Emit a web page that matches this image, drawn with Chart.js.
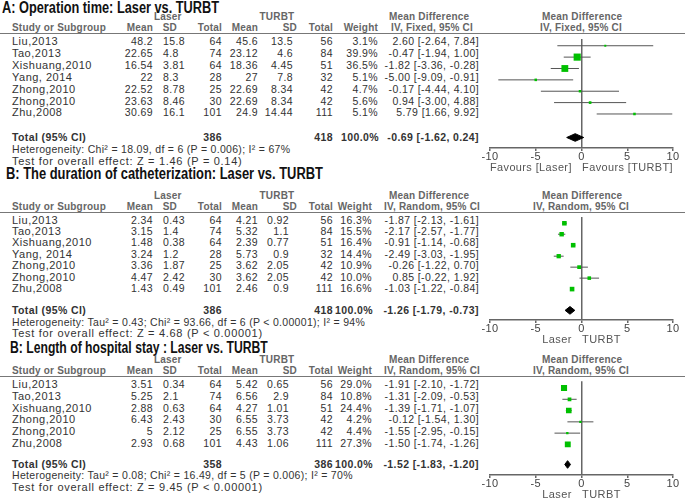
<!DOCTYPE html>
<html>
<head>
<meta charset="utf-8">
<script src="https://cdn.jsdelivr.net/npm/chart.js@4.4.1/dist/chart.umd.min.js"></script>
<style>
html,body{margin:0;padding:0;background:#fff;}
#page{position:relative;width:685px;height:500px;overflow:hidden;font-family:"Liberation Sans",Arial,sans-serif;font-size:10.5px;color:#333;letter-spacing:.4px;}
.t{position:absolute;white-space:nowrap;line-height:12px;}
.nm{font-size:11px;letter-spacing:.5px;}
.b{font-weight:bold;}
.h{font-weight:bold;color:#666;font-size:10px;letter-spacing:.2px;}
.het{letter-spacing:.3px;}
.tst{font-size:11px;letter-spacing:.7px;}
.ttl{position:absolute;white-space:nowrap;font-weight:bold;font-size:16px;line-height:18px;color:#111;letter-spacing:0;transform-origin:0 50%;}
.rule{position:absolute;left:0;width:685px;height:0;border-top:1.5px solid #777;}
canvas{position:absolute;}
</style>
</head>
<body>
<div id="page"></div>
<script>
const xTicks = [-10, -5, 0, 5, 10];
const titles = [
    'A: Operation time: Laser vs. TURBT',
    'B: The duration of catheterization: Laser vs. TURBT',
    'B: Length of hospital stay : Laser vs. TURBT'
];

// A: operation time
const opStudies = ['Liu,2013', 'Tao,2013', 'Xishuang,2010', 'Yang, 2014', 'Zhong,2010', 'Zhong,2010', 'Zhu,2008'];
const opLaserMean = [48.2, 22.65, 16.54, 22, 22.52, 23.63, 30.69];
const opLaserSd = [15.8, 4.8, 3.81, 8.3, 8.78, 8.46, 16.1];
const opLaserN = [64, 74, 64, 28, 25, 30, 101];
const opTurbtMean = [45.6, 23.12, 18.36, 27, 22.69, 22.69, 24.9];
const opTurbtSd = [13.5, 4.6, 4.45, 7.8, 8.34, 8.34, 14.44];
const opTurbtN = [56, 84, 51, 32, 42, 42, 111];
const opWeight = [3.1, 39.9, 36.5, 5.1, 4.7, 5.6, 5.1];
const opMd = [2.60, -0.47, -1.82, -5.00, -0.17, 0.94, 5.79];
const opLow = [-2.64, -1.94, -3.36, -9.09, -4.44, -3.00, 1.66];
const opHigh = [7.84, 1.00, -0.28, -0.91, 4.10, 4.88, 9.92];
const opPooled = [-0.69, -1.62, 0.24];
const opTotals = [386, 418];

// B: catheterization
const caStudies = ['Liu,2013', 'Tao,2013', 'Xishuang,2010', 'Yang, 2014', 'Zhong,2010', 'Zhong,2010', 'Zhu,2008'];
const caLaserMean = [2.34, 3.15, 1.48, 3.24, 3.36, 4.47, 1.43];
const caLaserSd = [0.43, 1.4, 0.38, 1.2, 1.87, 2.42, 0.49];
const caLaserN = [64, 74, 64, 28, 25, 30, 101];
const caTurbtMean = [4.21, 5.32, 2.39, 5.73, 3.62, 3.62, 2.46];
const caTurbtSd = [0.92, 1.1, 0.77, 0.9, 2.05, 2.05, 0.9];
const caTurbtN = [56, 84, 51, 32, 42, 42, 111];
const caWeight = [16.3, 15.5, 16.4, 14.4, 10.9, 10.0, 16.6];
const caMd = [-1.87, -2.17, -0.91, -2.49, -0.26, 0.85, -1.03];
const caLow = [-2.13, -2.57, -1.14, -3.03, -1.22, -0.22, -1.22];
const caHigh = [-1.61, -1.77, -0.68, -1.95, 0.70, 1.92, -0.84];
const caPooled = [-1.26, -1.79, -0.73];
const caTotals = [386, 418];

// C: hospital stay
const hsStudies = ['Liu,2013', 'Tao,2013', 'Xishuang,2010', 'Zhong,2010', 'Zhong,2010', 'Zhu,2008'];
const hsLaserMean = [3.51, 5.25, 2.88, 6.43, 5, 2.93];
const hsLaserSd = [0.34, 2.1, 0.63, 2.43, 2.12, 0.68];
const hsLaserN = [64, 74, 64, 30, 25, 101];
const hsTurbtMean = [5.42, 6.56, 4.27, 6.55, 6.55, 4.43];
const hsTurbtSd = [0.65, 2.9, 1.01, 3.73, 3.73, 1.06];
const hsTurbtN = [56, 84, 51, 42, 42, 111];
const hsWeight = [29.0, 10.8, 24.4, 4.2, 4.4, 27.3];
const hsMd = [-1.91, -1.31, -1.39, -0.12, -1.55, -1.50];
const hsLow = [-2.10, -2.09, -1.71, -1.54, -2.95, -1.74];
const hsHigh = [-1.72, -0.53, -1.07, 1.30, -0.15, -1.26];
const hsPooled = [-1.52, -1.83, -1.20];
const hsTotals = [358, 386];

const hetTexts = [
    'Heterogeneity: Chi\u00b2 = 18.09, df = 6 (P = 0.006); I\u00b2 = 67%',
    'Heterogeneity: Tau\u00b2 = 0.43; Chi\u00b2 = 93.66, df = 6 (P < 0.00001); I\u00b2 = 94%',
    'Heterogeneity: Tau\u00b2 = 0.08; Chi\u00b2 = 16.49, df = 5 (P = 0.006); I\u00b2 = 70%'
];
const testTexts = [
    'Test for overall effect: Z = 1.46 (P = 0.14)',
    'Test for overall effect: Z = 4.68 (P < 0.00001)',
    'Test for overall effect: Z = 9.45 (P < 0.00001)'
];
const axisTitles = ['Favours [Laser]   Favours [TURBT]', 'Laser   TURBT', 'Laser   TURBT'];
const models = ['Fixed', 'Random', 'Random'];

const panels = [
    { studies: opStudies, lm: opLaserMean, ls: opLaserSd, ln: opLaserN, tm: opTurbtMean, ts: opTurbtSd, tn: opTurbtN,
      w: opWeight, md: opMd, lo: opLow, hi: opHigh, pooled: opPooled, totals: opTotals,
      L: { tx: 2, tw: 217, ty: 8, h1: 17, h2: 28, line: 34, row0: 41, step: 11.9, total: 137, het: 149, test: 161, axis: 148, tsR: 293, wR: 378 } },
    { studies: caStudies, lm: caLaserMean, ls: caLaserSd, ln: caLaserN, tm: caTurbtMean, ts: caTurbtSd, tn: caTurbtN,
      w: caWeight, md: caMd, lo: caLow, hi: caHigh, pooled: caPooled, totals: caTotals,
      L: { tx: 6, tw: 317, ty: 174, h1: 196, h2: 207, line: 213, row0: 219.5, step: 11.4, total: 310, het: 322, test: 333, axis: 320, tsR: 289, wR: 372 } },
    { studies: hsStudies, lm: hsLaserMean, ls: hsLaserSd, ln: hsLaserN, tm: hsTurbtMean, ts: hsTurbtSd, tn: hsTurbtN,
      w: hsWeight, md: hsMd, lo: hsLow, hi: hsHigh, pooled: hsPooled, totals: hsTotals,
      L: { tx: 10, tw: 258, ty: 348, h1: 360, h2: 371, line: 377, row0: 384, step: 11.8, total: 464, het: 475, test: 487, axis: 475, tsR: 289, wR: 372 } }
];

const page = document.getElementById('page');

function put(text, x, y, align, cls){
    const d = document.createElement('div');
    d.className = 't' + (cls ? ' ' + cls : '');
    d.textContent = text;
    d.style.top = (y - 6) + 'px';
    if (align === 'r') d.style.right = (685 - x) + 'px';
    else d.style.left = x + 'px';
    page.appendChild(d);
    if (align === 'c') d.style.left = (x - d.offsetWidth / 2) + 'px';
    return d;
}

const ci = (m, l, h) => m.toFixed(2) + ' [' + l.toFixed(2) + ', ' + h.toFixed(2) + ']';

function drawTable(p, k){
    const L = p.L;
    const t = document.createElement('div');
    t.className = 'ttl';
    t.textContent = titles[k];
    t.style.left = L.tx + 'px';
    t.style.top = (L.ty - 9) + 'px';
    page.appendChild(t);
    t.style.transform = 'scaleX(' + (L.tw / t.offsetWidth) + ')';

    put('Laser', 168, L.h1, 'c', 'h');
    put('TURBT', 277, L.h1, 'c', 'h');
    put('Mean Difference', 429, L.h1, 'c', 'h');
    put('Mean Difference', 582, L.h1, 'c', 'h');
    put('Study or Subgroup', 12, L.h2, 'l', 'h');
    put('Mean', 153, L.h2, 'r', 'h');
    put('SD', 177, L.h2, 'r', 'h');
    put('Total', 222, L.h2, 'r', 'h');
    put('Mean', 258, L.h2, 'r', 'h');
    put('SD', 297, L.h2, 'r', 'h');
    put('Total', 333, L.h2, 'r', 'h');
    put('Weight', L.wR, L.h2, 'r', 'h');
    put('IV, ' + models[k] + ', 95% CI', 432, L.h2, 'c', 'h');
    put('IV, ' + models[k] + ', 95% CI', 581, L.h2, 'c', 'h');

    const rule = document.createElement('div');
    rule.className = 'rule';
    rule.style.top = (L.line - 1) + 'px';
    page.appendChild(rule);

    p.studies.forEach((s, i) => {
        const y = L.row0 + i * L.step;
        put(s, 12, y, 'l', 'nm');
        put(String(p.lm[i]), 153, y, 'r');
        put(String(p.ls[i]), 163, y, 'l');
        put(String(p.ln[i]), 222, y, 'r');
        put(String(p.tm[i]), 258, y, 'r');
        put(String(p.ts[i]), L.tsR, y, 'r');
        put(String(p.tn[i]), 333, y, 'r');
        put(p.w[i].toFixed(1) + '%', L.wR, y, 'r');
        put(ci(p.md[i], p.lo[i], p.hi[i]), 479, y, 'r');
    });

    put('Total (95% CI)', 12, L.total, 'l', 'b');
    put(String(p.totals[0]), 222, L.total, 'r', 'b');
    put(String(p.totals[1]), 333, L.total, 'r', 'b');
    put('100.0%', L.wR + 1, L.total, 'r', 'b');
    put(ci(p.pooled[0], p.pooled[1], p.pooled[2]), 479, L.total, 'r', 'b');
    put(hetTexts[k], 12, L.het, 'l', 'het');
    put(testTexts[k], 12, L.test, 'l', 'tst');
}

function drawForest(p, k){
    const L = p.L;
    const cv = document.createElement('canvas');
    cv.width = 205;
    cv.height = L.axis - L.line + 25;
    cv.style.left = '480px';
    cv.style.top = L.line + 'px';
    page.appendChild(cv);

    const yMin = -(L.row0 - L.line) / L.step;
    const yMax = (L.axis - L.row0) / L.step;
    const ty = (L.total - L.row0) / L.step;
    const dh = 4 / L.step;

    const datasets = [];
    // study squares, area follows the weight
    datasets.push({
        type: 'scatter',
        data: p.md.map((v, i) => ({ x: v, y: i })),
        pointStyle: 'rect',
        pointRadius: p.w.map(w => 0.8 * Math.sqrt(w)),
        backgroundColor: '#00c000',
        borderWidth: 0
    });
    // pooled diamond
    datasets.push({
        type: 'line',
        data: [
            { x: p.pooled[1], y: ty }, { x: p.pooled[0], y: ty - dh },
            { x: p.pooled[2], y: ty }, { x: p.pooled[0], y: ty + dh }, { x: p.pooled[1], y: ty }
        ],
        fill: 'shape',
        backgroundColor: '#000',
        borderColor: '#000',
        borderWidth: 1,
        pointRadius: 0
    });
    // confidence intervals
    p.md.forEach((v, i) => {
        datasets.push({
            type: 'line',
            data: [{ x: p.lo[i], y: i }, { x: p.hi[i], y: i }],
            borderColor: '#555',
            borderWidth: 1,
            pointRadius: 0,
            fill: false
        });
    });

    new Chart(cv, {
        type: 'scatter',
        data: { datasets },
        options: {
            responsive: false,
            animation: false,
            events: [],
            layout: { padding: { left: 10, right: 12, top: 0, bottom: 0 } },
            plugins: { legend: { display: false }, tooltip: { enabled: false } },
            scales: {
                x: {
                    type: 'linear', min: -10, max: 10,
                    afterBuildTicks: s => { s.ticks = xTicks.map(v => ({ value: v })); },
                    grid: {
                        drawOnChartArea: true,
                        color: c => (c.tick && c.tick.value === 0) ? '#666' : 'rgba(0,0,0,0)',
                        lineWidth: 1.5,
                        tickColor: '#666',
                        tickLength: 3
                    },
                    border: { display: true, color: '#666', width: 1.5 },
                    ticks: { padding: 0, color: '#444', maxRotation: 0, autoSkip: false,
                             font: { family: 'Liberation Sans', size: 11, lineHeight: 1 } },
                    title: { display: true, text: axisTitles[k], color: '#555', padding: { top: 0, bottom: 0 },
                             font: { family: 'Liberation Sans', size: 11, lineHeight: 1 } }
                },
                y: { type: 'linear', display: false, reverse: true, min: yMin, max: yMax }
            }
        }
    });
}

panels.forEach((p, k) => { drawTable(p, k); drawForest(p, k); });
</script>
</body>
</html>
